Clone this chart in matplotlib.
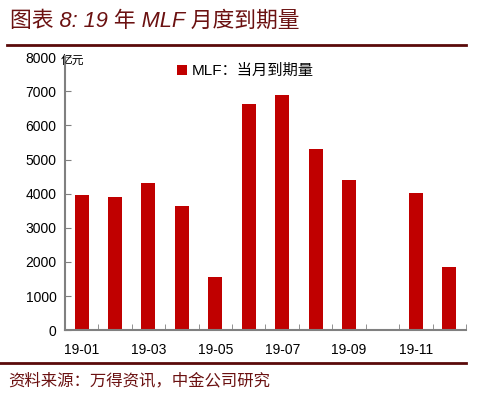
import matplotlib
matplotlib.use("Agg")
import matplotlib.pyplot as plt
import numpy as np

plt.rcParams['font.family'] = ['Liberation Sans', 'Noto Sans CJK SC', 'DejaVu Sans']

months = ["19-01", "19-02", "19-03", "19-04", "19-05", "19-06",
          "19-07", "19-08", "19-09", "19-10", "19-11", "19-12"]
values = [3950, 3900, 4300, 3650, 1550, 6630, 6900, 5300, 4400, 0, 4030, 1850]
yticks = [0, 1000, 2000, 3000, 4000, 5000, 6000, 7000, 8000]

fig = plt.figure(figsize=(4.84, 3.94), dpi=100)
ax = fig.add_axes([0.134, 0.162, 0.829, 0.693])

x = np.arange(len(months))
ax.bar(x, values, width=0.42, color="#c00000", label="MLF：当月到期量", zorder=2)

ax.set_xlim(-0.5, len(months) - 0.5)
ax.set_ylim(0, 8000)
ax.set_yticks(yticks)
ax.set_yticklabels([str(v) for v in yticks], fontsize=10)
ax.set_xticks(x[::2])
ax.set_xticklabels(months[::2], fontsize=10)
ax.tick_params(axis='x', length=0, pad=9)
ax.set_xticks(np.arange(len(months) + 1) - 0.5, minor=True)
ax.tick_params(axis='x', which='minor', direction='in', length=4, color='#808080')
ax.tick_params(axis='y', direction='in', length=4, color='#808080', pad=6)

for s in ['top', 'right']:
    ax.spines[s].set_visible(False)
for s in ['left', 'bottom']:
    ax.spines[s].set_color('#808080')
    ax.spines[s].set_linewidth(1.5)

ax.text(-0.01, 0.99, "亿元", transform=ax.transAxes, fontsize=8.5,
        fontfamily=['Noto Sans CJK SC'], style='italic', va='center', ha='left')

leg = ax.legend(loc='upper center', bbox_to_anchor=(0.45, 1.025), frameon=False,
                fontsize=11, handlelength=0.65, handleheight=0.65, handletextpad=0.3)

fig.text(0.02, 0.945, "图表 8: 19 年 MLF 月度到期量", fontsize=15.7, color="#6b1111",
         style='italic', va='center', ha='left')
fig.add_artist(plt.Line2D([0.015, 0.962], [0.886, 0.886], color="#5a0a0a", linewidth=2,
                          transform=fig.transFigure))
fig.add_artist(plt.Line2D([0.0, 0.962], [0.079, 0.079], color="#5a0a0a", linewidth=2,
                          transform=fig.transFigure))
fig.text(0.016, 0.035, "资料来源：万得资讯，中金公司研究", fontsize=11.8, color="#6b1111",
         style='italic', va='center', ha='left')

fig.savefig("out.png", dpi=100, facecolor='white')
